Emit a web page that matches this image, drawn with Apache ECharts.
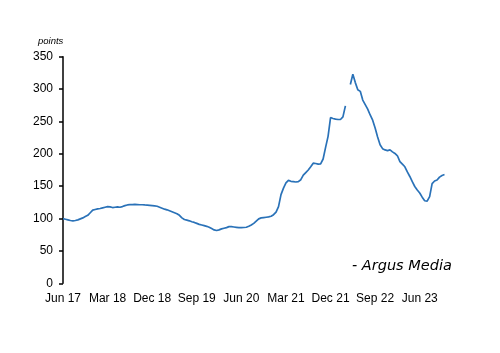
<!DOCTYPE html>
<html>
<head>
<meta charset="utf-8">
<script src="https://cdn.jsdelivr.net/npm/echarts@6/dist/echarts.min.js"></script>
<style>
  html, body { margin: 0; padding: 0; background: #fff; }
  #main { width: 500px; height: 353px; }
</style>
</head>
<body>
<div id="main"></div>
<script>
// x tick labels, one every 9 months starting Jun 2017
var tickLabels = ['Jun 17', 'Mar 18', 'Dec 18', 'Sep 19', 'Jun 20', 'Mar 21', 'Dec 21', 'Sep 22', 'Jun 23'];
var yTicks = [0, 50, 100, 150, 200, 250, 300, 350];

// semi-monthly index values, Jun 2017 .. Nov 2023 (null = missing data)
var values = [
    100, 99, 98, 97, 96.5, 97, 98, 99.5, 101, 103,
    105, 109, 113, 114, 115, 115.5, 116.5, 117.5, 118.5, 118,
    117, 117.5, 118, 117.5, 118.5, 120, 121, 121.5, 121.5, 121.8,
    121.6, 121.3, 121.3, 121, 120.8, 120.5, 120, 119.5, 119, 117.5,
    116, 114.5, 113.5, 112, 110.5, 109, 107.5, 105, 101, 98.5,
    97.5, 96.5, 95, 94, 92.5, 91, 90, 89, 88, 86.5,
    84.5, 82.5, 81.5, 82.5, 84, 85, 86, 87.5, 87.5, 87,
    86.5, 86, 86, 86.2, 86.6, 88, 90, 92.5, 96, 99.5,
    101, 101.5, 102, 102.5, 103.5, 106, 110, 118.5, 137, 147,
    155, 159, 157.5, 157, 156.5, 157, 160, 167, 171, 175,
    180, 185.5, 185, 184, 184.5, 192, 210, 227, 256, 254.5,
    253.5, 253, 253, 257, 274, null, 307, 323, 310, 299,
    296.5, 283, 276, 269, 260, 252, 240, 226, 214, 208,
    206, 205, 206, 203, 200.5, 197, 188, 184, 180, 172,
    165, 157, 149.5, 144, 139.5, 133, 127.5, 127, 134, 154,
    158, 159.5, 164, 166.5, 168
];

// months since Jun 2017 for each value (two readings per month)
var months = values.map(function (v, i) { return i / 2; });

var chart = echarts.init(document.getElementById('main'));

var option = {
    animation: false,
    grid: {
        left: 63,
        right: 55.5,
        top: 56.7,
        bottom: 69.7
    },
    xAxis: {
        type: 'value',
        min: 0,
        max: 77,
        interval: 9,
        axisLine: { show: false },
        axisTick: { show: false },
        splitLine: { show: false },
        axisLabel: {
            margin: 9,
            color: '#000',
            fontFamily: 'Liberation Sans',
            fontSize: 12,
            formatter: function (v) {
                if (v % 9 !== 0) return '';
                return tickLabels[v / 9] || '';
            }
        }
    },
    yAxis: {
        type: 'value',
        min: yTicks[0],
        max: yTicks[yTicks.length - 1],
        interval: 50,
        axisLine: { show: true, lineStyle: { color: '#000', width: 1.5 } },
        axisTick: { show: true, length: 4, lineStyle: { color: '#000', width: 1.5 } },
        splitLine: { show: false },
        axisLabel: {
            margin: 10,
            color: '#000',
            fontFamily: 'Liberation Sans',
            fontSize: 12
        }
    },
    graphic: [
        {
            type: 'text',
            left: 38,
            top: 36,
            style: {
                text: 'points',
                fill: '#000',
                font: 'italic 9.5px "Liberation Sans"'
            }
        },
        {
            type: 'text',
            left: 352,
            top: 259,
            style: {
                text: '- Argus Media',
                fill: '#000',
                font: 'italic 14.5px "DejaVu Sans"'
            }
        }
    ],
    series: [
        {
            type: 'line',
            data: months.map(function (m, i) { return [m, values[i]]; }),
            showSymbol: false,
            connectNulls: false,
            lineStyle: { color: '#2a72b8', width: 1.7 }
        }
    ]
};

chart.setOption(option);
</script>
</body>
</html>
